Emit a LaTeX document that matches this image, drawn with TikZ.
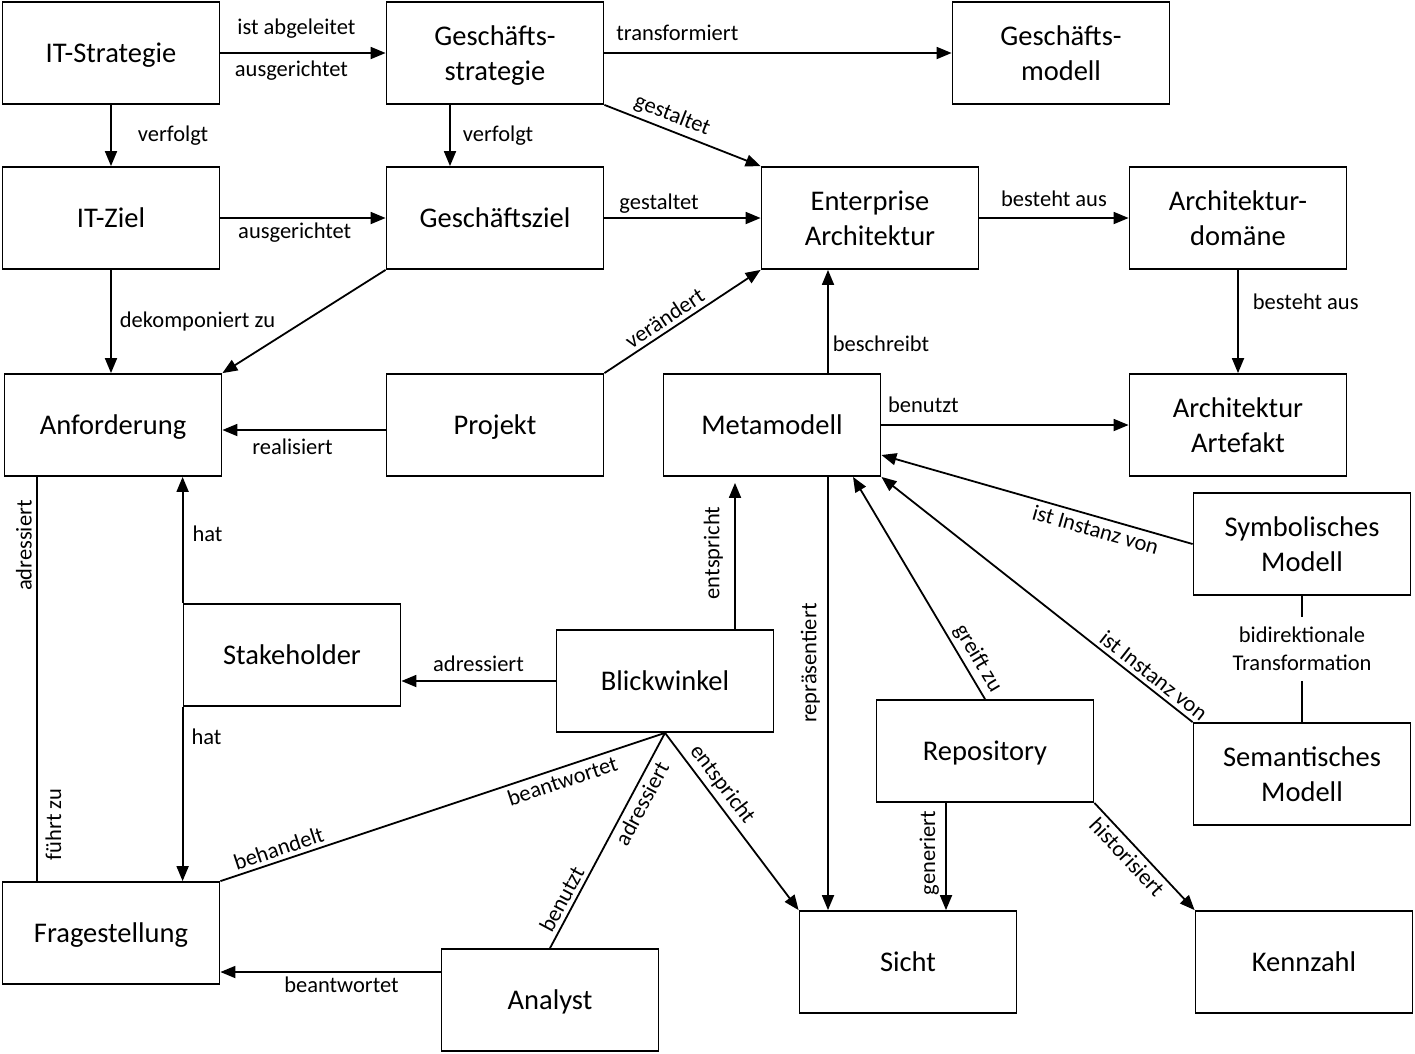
\documentclass[tikz,border=0pt]{standalone}
\usepackage{fontspec}
\setmainfont{Carlito}
\usetikzlibrary{arrows.meta}
\tikzset{
  box/.style={draw, line width=1.8pt, minimum width=217pt, minimum height=102pt,
    align=center, inner sep=2pt, text depth=0pt, font=\fontsize{28.5}{35}\selectfont},
  lbl/.style={font=\fontsize{22.5}{28}\selectfont, inner sep=4pt, align=center},
}

\begin{document}
\begin{tikzpicture}[x=1pt, y=-1pt, line width=1.8pt, >={Triangle[length=15pt,width=12pt]}]
  \useasboundingbox (0,0) rectangle (1415,1053);

  \node[box] (itstrat) at (111,53) {IT-Strategie};
  \node[box] (gsstrat) at (495,53) {Geschäfts-\\strategie};
  \node[box] (gsmod) at (1061,53) {Geschäfts-\\modell};
  \node[box] (itziel) at (111,218) {IT-Ziel};
  \node[box] (gsziel) at (495,218) {Geschäftsziel};
  \node[box] (ea) at (870,218) {Enterprise\\Architektur};
  \node[box] (adom) at (1238,218) {Architektur-\\domäne};
  \node[box] (anf) at (113,425) {Anforderung};
  \node[box] (proj) at (495,425) {Projekt};
  \node[box] (meta) at (772,425) {Metamodell};
  \node[box] (aart) at (1238,425) {Architektur\\Artefakt};
  \node[box] (symb) at (1302,544) {Symbolisches\\Modell};
  \node[box] (stake) at (292,655) {Stakeholder};
  \node[box] (blick) at (665,681) {Blickwinkel};
  \node[box] (repo) at (985,751) {Repository};
  \node[box] (sem) at (1302,774) {Semantisches\\Modell};
  \node[box] (frage) at (111,933) {Fragestellung};
  \node[box] (analyst) at (550,1000) {Analyst};
  \node[box] (sicht) at (908,962) {Sicht};
  \node[box] (kenn) at (1304,962) {Kennzahl};

  \path[->]
    (itstrat.east) edge node[lbl,above,pos=0.46,yshift=10pt]{ist abgeleitet} node[lbl,below,pos=0.43,yshift=-3pt]{ausgerichtet} (gsstrat.west)
    (gsstrat.east) edge node[lbl,above,pos=0.21,yshift=7pt]{transformiert} (gsmod.west)
    (itstrat.south) edge node[lbl,right,xshift=22pt]{verfolgt} (itziel.north)
    ([xshift=-45pt]gsstrat.south) edge node[lbl,right,xshift=8pt]{verfolgt} ([xshift=-45pt]gsstrat.south |- gsziel.north)
    (gsstrat.south east) edge node[lbl,above,sloped,pos=0.4]{gestaltet} (ea.north west)
    (itziel.east) edge node[lbl,below,pos=0.45]{ausgerichtet} (gsziel.west)
    (gsziel.east) edge node[lbl,above,pos=0.35]{gestaltet} (ea.west)
    (ea.east) edge node[lbl,above,yshift=6pt]{besteht aus} (adom.west)
    (adom.south) edge node[lbl,right,xshift=10pt,pos=0.31]{besteht aus} (aart.north)
    (itziel.south) edge node[lbl,right,xshift=4pt]{dekomponiert zu} (itziel.south |- anf.north)
    (gsziel.south west) edge (anf.north east)
    ([yshift=-5pt]proj.west) edge node[lbl,below,pos=0.57,yshift=-4pt]{realisiert} ([yshift=-5pt]proj.west -| anf.east)
    (proj.north east) edge node[lbl,above,sloped,pos=0.43]{verändert} (ea.south west)
    ([xshift=56pt]meta.north) edge node[lbl,right,pos=0.28]{beschreibt} ([xshift=56pt]meta.north |- ea.south)
    (meta.east) edge node[lbl,above,pos=0.17,yshift=7pt]{benutzt} (aart.west)
    (symb.west) edge node[lbl,below,sloped,pos=0.3]{ist Instanz von} ([yshift=-30pt]meta.east)
    (sem.north west) edge node[lbl,above,sloped,pos=0.15]{ist Instanz von} (meta.south east)
    (symb.south) edge[-] node[lbl,fill=white,inner sep=10pt,yshift=10pt]{bidirektionale\\Transformation} (sem.north)
    ([xshift=33pt]anf.south west) edge[-] node[lbl,above,rotate=90,pos=0.17]{adressiert}
      node[lbl,below,rotate=90,pos=0.86,inner sep=8pt]{führt zu} ([xshift=33pt]anf.south west |- frage.north)
    (stake.north west) edge node[lbl,right,pos=0.55,xshift=5pt]{hat} (stake.north west |- anf.south)
    (stake.south west) edge node[lbl,right,pos=0.17,xshift=4pt]{hat} (stake.south west |- frage.north)
    (blick.west) edge node[lbl,above,yshift=4pt]{adressiert} (blick.west -| stake.east)
    ([xshift=70pt]blick.north) edge[shorten >=6pt] node[lbl,above,rotate=90,inner sep=11pt]{entspricht} ([xshift=70pt]blick.north |- meta.south)
    ([xshift=56pt]meta.south) edge node[lbl,above,rotate=90,pos=0.43,inner sep=7pt]{repräsentiert} ([xshift=56pt]meta.south |- sicht.north)
    (repo.north) edge node[lbl,above,sloped,pos=0.15]{greift zu} ([xshift=81pt]meta.south)
    ([xshift=-39pt]repo.south) edge node[lbl,above,rotate=90,pos=0.47,inner sep=6pt]{generiert} ([xshift=-39pt]repo.south |- sicht.north)
    (repo.south east) edge node[lbl,below,sloped,pos=0.42]{historisiert} (kenn.north west)
    (blick.south) edge[-] node[lbl,below,sloped,pos=0.24]{beantwortet} node[lbl,above,sloped,pos=0.86]{behandelt} (frage.north east)
    (blick.south) edge[-] node[lbl,below,sloped,pos=0.3]{adressiert} node[lbl,above,sloped,pos=0.8]{benutzt} (analyst.north)
    (blick.south) edge node[lbl,above,sloped,pos=0.34]{entspricht} (sicht.north west)
    ([yshift=28pt]analyst.west) edge node[lbl,below,pos=0.45]{beantwortet} ([yshift=28pt]analyst.west -| frage.east);
\end{tikzpicture}
\end{document}
